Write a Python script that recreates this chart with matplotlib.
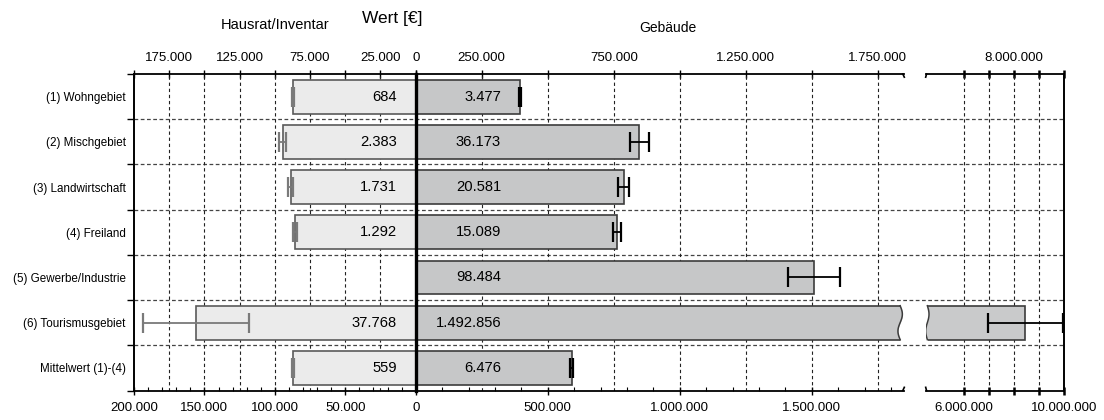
import numpy as np
import matplotlib
matplotlib.use('Agg')
import matplotlib.pyplot as plt
from matplotlib.ticker import FixedLocator, FuncFormatter, MultipleLocator
from matplotlib.transforms import blended_transform_factory

plt.rcParams['font.family'] = ['Liberation Sans', 'DejaVu Sans']

# ---------------- data ----------------
categories = ['(1) Wohngebiet', '(2) Mischgebiet', '(3) Landwirtschaft', '(4) Freiland',
              '(5) Gewerbe/Industrie', '(6) Tourismusgebiet', 'Mittelwert (1)-(4)']
hausrat_values = [86900, 94400, 88700, 85500, np.nan, 155800, 87300]
hausrat_errors = [684, 2383, 1731, 1292, np.nan, 37768, 559]
gebaeude_values = [396000, 846000, 787000, 762000, 1507000, 8450000, 590000]
gebaeude_errors = [3477, 36173, 20581, 15089, 98484, 1492856, 6476]

left_top_labels = [175000, 125000, 75000, 25000, 0]
mid_top_labels = [250000, 750000, 1250000, 1750000]
right_top_labels = [8000000]
right_bottom_labels = [6000000, 10000000]


def de(v):
    return f"{int(round(v)):,}".replace(',', '.')


# ---------------- layout (pixels) ----------------
W, H = 1104, 420
x_left, x_zero, x_mid_end, x_right_start, x_right_end = 134, 415.7, 904.3, 925.7, 1064
y_top, y_bot = 74, 390.5


def rect(x0, x1):
    return [x0 / W, 1 - y_bot / H, (x1 - x0) / W, (y_bot - y_top) / H]


fig = plt.figure(figsize=(W / 100, H / 100), dpi=100)

bg = fig.add_axes(rect(x_left, x_right_end), zorder=0)
axL = fig.add_axes(rect(x_left, x_zero), zorder=1)
axM = fig.add_axes(rect(x_zero, x_mid_end), zorder=1)
axR = fig.add_axes(rect(x_right_start, x_right_end), zorder=1)

n = len(categories)
y = np.arange(n)
for a in (bg, axL, axM, axR):
    a.set_ylim(n - 0.5, -0.5)
    a.set_facecolor('none')

# ---------------- background: y axis & horizontal grid ----------------
bg.set_xticks([])
bg.set_xlim(0, 1)
for s in ('top', 'bottom'):
    bg.spines[s].set_visible(False)
for s in ('left', 'right'):
    bg.spines[s].set_linewidth(1.4)
bg.set_yticks(np.arange(-0.5, n, 1.0))
bg.set_yticklabels([])
bg.set_yticks(y, minor=True)
bg.set_yticklabels(categories, minor=True)
bg.tick_params(axis='y', which='major', length=5, width=1.0, direction='out')
bg.tick_params(axis='y', which='minor', length=0, pad=6, labelsize=8.4)
for b in np.arange(0.5, n - 1, 1.0):
    bg.axhline(b, color='#444444', lw=0.9, ls=(0, (3, 2)), zorder=0)

bar_h = 0.75
grid_kw = dict(color='#222222', lw=0.8, ls=(0, (3, 2.5)), zorder=0.5)

# ---------------- left: Hausrat/Inventar ----------------
hv = np.array(hausrat_values, dtype=float)
he = np.array(hausrat_errors, dtype=float)
m = ~np.isnan(hv)
axL.set_xlim(200000, 0)
for v in np.arange(25000, 200000, 25000):
    axL.axvline(v, **grid_kw)
axL.barh(y[m], hv[m], height=bar_h, color='#ebebeb', edgecolor='#5a5a5a', lw=1.2, zorder=2)
axL.errorbar(hv[m], y[m], xerr=he[m], fmt='none', ecolor='#7a7a7a', elinewidth=1.3,
             capsize=7.5, capthick=1.6, zorder=3)
for yi, e in zip(y[m], he[m]):
    axL.text(13300, yi, de(e), ha='right', va='center', fontsize=10.6, zorder=4)

axL.spines['left'].set_visible(False)
axL.spines['right'].set_visible(False)
axL.spines['top'].set_visible(False)
axL.spines['bottom'].set_linewidth(1.3)
axL.set_yticks([])
axL.xaxis.set_major_locator(FixedLocator(np.arange(0, 200001, 50000)))
axL.xaxis.set_major_formatter(FuncFormatter(lambda v, p: de(v)))
axL.xaxis.set_minor_locator(MultipleLocator(10000))
axL.tick_params(axis='x', which='major', direction='inout', length=6, width=1.0, pad=5.5, labelsize=9.5)
axL.tick_params(axis='x', which='minor', direction='in', length=3, width=0.8)

secL = axL.secondary_xaxis('top')
secL.xaxis.set_major_locator(FixedLocator(np.arange(0, 200001, 25000)))
secL.xaxis.set_major_formatter(FuncFormatter(lambda v, p: de(v) if int(round(v)) in left_top_labels else ''))
secL.tick_params(axis='x', direction='inout', length=6, width=1.0, pad=4.5, labelsize=9.5)
for s in secL.spines.values():
    s.set_linewidth(1.3)

# ---------------- middle: Gebäude (linear part) ----------------
gv = np.array(gebaeude_values, dtype=float)
ge = np.array(gebaeude_errors, dtype=float)
axM.set_xlim(0, 1850000)
for v in np.arange(250000, 1850000, 250000):
    axM.axvline(v, **grid_kw)
axM.barh(y, gv, height=bar_h, color='#c6c7c8', edgecolor='#3c3c3c', lw=1.2, zorder=2)
axM.errorbar(gv, y, xerr=ge, fmt='none', ecolor='black', elinewidth=1.3,
             capsize=7.5, capthick=1.6, zorder=3)
for yi, e in zip(y, ge):
    axM.text(323000, yi, de(e), ha='right', va='center', fontsize=10.6, zorder=4)

# wavy break at the end of the long bar
big = int(np.argmax(gv))
tM = blended_transform_factory(axM.transAxes, axM.transData)
yy = np.linspace(big - bar_h / 2, big + bar_h / 2, 60)
wave = 0.9915 + 0.0045 * np.sin(np.linspace(0, 2 * np.pi, 60))
yy2 = np.linspace(big - bar_h / 2 - 0.03, big + bar_h / 2 + 0.03, 60)
axM.fill_betweenx(yy2, np.interp(yy2, yy, wave), 1.01, color='white', transform=tM, zorder=3.5, lw=0)
axM.plot(wave, yy, color='#3c3c3c', lw=1.1, transform=tM, zorder=3.6)

axM.spines['right'].set_visible(False)
axM.spines['top'].set_visible(False)
axM.spines['left'].set_linewidth(2.4)
axM.spines['bottom'].set_linewidth(1.3)
axM.set_yticks([])
axM.xaxis.set_major_locator(FixedLocator(np.arange(500000, 1850000, 500000)))
axM.xaxis.set_major_formatter(FuncFormatter(lambda v, p: de(v)))
axM.xaxis.set_minor_locator(MultipleLocator(100000))
axM.tick_params(axis='x', which='major', direction='inout', length=6, width=1.0, pad=5.5, labelsize=9.5)
axM.tick_params(axis='x', which='minor', direction='in', length=3, width=0.8)

secM = axM.secondary_xaxis('top')
secM.xaxis.set_major_locator(FixedLocator(np.arange(0, 1850000, 250000)))
secM.xaxis.set_major_formatter(FuncFormatter(lambda v, p: de(v) if int(round(v)) in mid_top_labels else ''))
secM.tick_params(axis='x', direction='inout', length=6, width=1.0, pad=4.5, labelsize=9.5)
for s in secM.spines.values():
    s.set_linewidth(1.3)

# small hooks marking the axis break
hook = dict(color='black', lw=1.2, clip_on=False, zorder=5)
axM.plot([0.997, 1.0], [1.0, 0.99], transform=axM.transAxes, **hook)
axM.plot([0.997, 1.0], [0.0, 0.01], transform=axM.transAxes, **hook)

# ---------------- right: Gebäude (upper segment) ----------------
axR.set_xlim(4470000, 10000000)
for v in np.arange(6000000, 10000000, 1000000):
    axR.axvline(v, **grid_kw)
axR.barh(y, gv, height=bar_h, color='#c9cacb', edgecolor='#3c3c3c', lw=1.2, zorder=2)
axR.errorbar(gv, y, xerr=ge, fmt='none', ecolor='black', elinewidth=1.3,
             capsize=7.5, capthick=1.6, zorder=3)
tR = blended_transform_factory(axR.transAxes, axR.transData)
waveR = 0.012 + 0.012 * np.sin(np.linspace(0, 2 * np.pi, 60))
axR.fill_betweenx(yy2, -0.05, np.interp(yy2, yy, waveR), color='white', transform=tR, zorder=3.5, lw=0)
axR.plot(waveR, yy, color='#3c3c3c', lw=1.1, transform=tR, zorder=3.6)
axR.plot([0.0, 0.006], [0.99, 1.0], transform=axR.transAxes, **hook)
axR.plot([0.0, 0.006], [0.01, 0.0], transform=axR.transAxes, **hook)

for s in ('left', 'right', 'top'):
    axR.spines[s].set_visible(False)
axR.spines['bottom'].set_linewidth(1.3)
axR.set_yticks([])
axR.xaxis.set_major_locator(FixedLocator(np.arange(6000000, 10000001, 1000000)))
axR.xaxis.set_major_formatter(FuncFormatter(lambda v, p: de(v) if int(round(v)) in right_bottom_labels else ''))
axR.tick_params(axis='x', which='major', direction='inout', length=6, width=1.8, pad=5.5, labelsize=9.5)

secR = axR.secondary_xaxis('top')
secR.xaxis.set_major_locator(FixedLocator(np.arange(6000000, 10000001, 1000000)))
secR.xaxis.set_major_formatter(FuncFormatter(lambda v, p: de(v) if int(round(v)) in right_top_labels else ''))
secR.tick_params(axis='x', direction='inout', length=6, width=1.8, pad=4.5, labelsize=9.5)
for s in secR.spines.values():
    s.set_linewidth(1.3)

# ---------------- titles ----------------
fig.text(392 / W, 1 - 18 / H, 'Wert [€]', ha='center', va='center', fontsize=12.5)
fig.text(275 / W, 1 - 25 / H, 'Hausrat/Inventar', ha='center', va='center', fontsize=10.5)
fig.text(668 / W, 1 - 28 / H, 'Gebäude', ha='center', va='center', fontsize=10)

fig.savefig('out.png', dpi=100)
